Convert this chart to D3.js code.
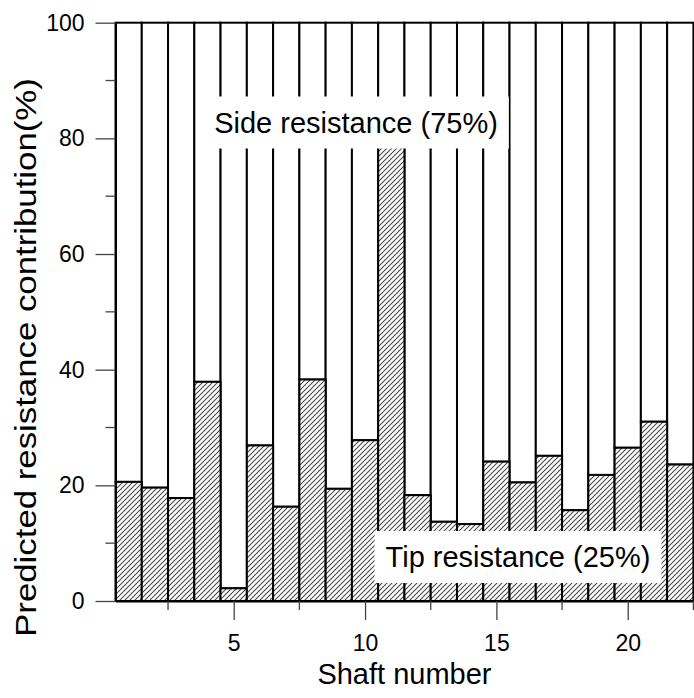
<!DOCTYPE html>
<html>
<head>
<meta charset="utf-8">
<script src="https://cdn.jsdelivr.net/npm/d3@7"></script>
<style>
  html, body { margin: 0; padding: 0; background: #fff; }
  svg { display: block; }
  text { font-family: "Liberation Sans", Arial, sans-serif; fill: #000; }
</style>
</head>
<body>
<svg id="chart" width="694" height="698"></svg>
<script>
// Shaft numbers 1..22 and predicted tip resistance share (%) per shaft
const shafts = d3.range(1, 23);
const tipShare = [20.6, 19.6, 17.8, 37.9, 2.2, 26.9, 16.3, 38.3, 19.4, 27.8, 80.0,
                  18.3, 13.7, 13.3, 24.1, 20.5, 25.1, 15.7, 21.8, 26.5, 31.0, 23.6];
// Side resistance share is the remainder to 100 %
const sideShare = tipShare.map(v => 100 - v);

const yTicksMajor = [0, 20, 40, 60, 80, 100];
const yTicksMinor = [10, 30, 50, 70, 90];
const xTicksMajor = [5, 10, 15, 20];
const xTicksMinor = [2.5, 7.5, 12.5, 17.5, 22.5];

const sideLabel = "Side resistance (75%)";
const tipLabel = "Tip resistance (25%)";
const xTitle = "Shaft number";
const yTitle = "Predicted resistance contribution(%)";

const svg = d3.select("#chart");

const x = d3.scaleLinear().domain([0.5, 22.5]).range([115.5, 693.4]);
const y = d3.scaleLinear().domain([0, 100]).range([601, 22.7]);

// diagonal hatch for the tip portion
const defs = svg.append("defs");
const pat = defs.append("pattern")
  .attr("id", "hatch")
  .attr("patternUnits", "userSpaceOnUse")
  .attr("width", 5).attr("height", 5);
pat.append("rect").attr("width", 5).attr("height", 5).attr("fill", "#fff");
pat.append("path")
  .attr("d", "M0,5 L5,0 M-1,1 L1,-1 M4,6 L6,4")
  .attr("stroke", "#4a4a4a").attr("stroke-width", 1.1);

const rows = shafts.map((s, i) => ({ s, tip: tipShare[i], side: sideShare[i] }));

const bars = svg.append("g");
// side resistance: white block stacked on top of tip
bars.selectAll("rect.side").data(rows).join("rect")
  .attr("class", "side")
  .attr("x", d => x(d.s - 0.5))
  .attr("width", d => x(d.s + 0.5) - x(d.s - 0.5))
  .attr("y", d => y(d.tip + d.side))
  .attr("height", d => y(d.tip) - y(d.tip + d.side))
  .attr("fill", "#fff").attr("stroke", "#000").attr("stroke-width", 2);
// tip resistance: hatched block from the baseline
bars.selectAll("rect.tip").data(rows).join("rect")
  .attr("class", "tip")
  .attr("x", d => x(d.s - 0.5))
  .attr("width", d => x(d.s + 0.5) - x(d.s - 0.5))
  .attr("y", d => y(d.tip))
  .attr("height", d => y(0) - y(d.tip))
  .attr("fill", "url(#hatch)").attr("stroke", "#000").attr("stroke-width", 2);

// y axis
const yAxis = svg.append("g").attr("transform", `translate(${x(0.5)},0)`);
yAxis.call(d3.axisLeft(y).tickValues(yTicksMajor).tickSize(20).tickPadding(11).tickSizeOuter(0))
  .call(g => g.select(".domain").attr("stroke-width", 2))
  .call(g => g.selectAll(".tick line").attr("stroke", "#444").attr("stroke-width", 1.3))
  .call(g => g.selectAll(".tick text").attr("font-size", 23).attr("font-family", "Liberation Sans, Arial, sans-serif"));
yAxis.selectAll("line.minor").data(yTicksMinor).join("line")
  .attr("class", "minor")
  .attr("x1", -10).attr("x2", 0)
  .attr("y1", d => y(d)).attr("y2", d => y(d))
  .attr("stroke", "#444").attr("stroke-width", 1.3);

// x axis
const xAxis = svg.append("g").attr("transform", `translate(0,${y(0)})`);
xAxis.call(d3.axisBottom(x).tickValues(xTicksMajor).tickSize(19).tickPadding(15).tickSizeOuter(0))
  .call(g => g.select(".domain").attr("stroke-width", 2))
  .call(g => g.selectAll(".tick line").attr("stroke", "#444").attr("stroke-width", 1.3))
  .call(g => g.selectAll(".tick text").attr("font-size", 23).attr("font-family", "Liberation Sans, Arial, sans-serif"));
xAxis.selectAll("line.minor").data(xTicksMinor).join("line")
  .attr("class", "minor")
  .attr("y1", 0).attr("y2", 9)
  .attr("x1", d => x(d)).attr("x2", d => x(d))
  .attr("stroke", "#444").attr("stroke-width", 1.3);

// in-plot labels on white boxes
function boxLabel(text, cx, cy) {
  const g = svg.append("g");
  const t = g.append("text")
    .attr("x", cx).attr("y", cy)
    .attr("text-anchor", "middle")
    .attr("dominant-baseline", "central")
    .attr("font-size", 29)
    .text(text);
  const b = t.node().getBBox();
  g.insert("rect", "text")
    .attr("x", b.x - 11).attr("width", b.width + 22)
    .attr("y", cy - 26).attr("height", 52)
    .attr("fill", "#fff");
}
boxLabel(sideLabel, 356, 122.5);
boxLabel(tipLabel, 518, 557);

// axis titles
svg.append("text")
  .attr("x", (x(0.5) + x(22.5)) / 2).attr("y", 684)
  .attr("text-anchor", "middle").attr("font-size", 29)
  .text(xTitle);
// vertical title is drawn wider along its run
svg.append("text")
  .attr("transform", `translate(36,357.5) rotate(-90) scale(1.2,1)`)
  .attr("text-anchor", "middle").attr("font-size", 29)
  .text(yTitle);
</script>
</body>
</html>
